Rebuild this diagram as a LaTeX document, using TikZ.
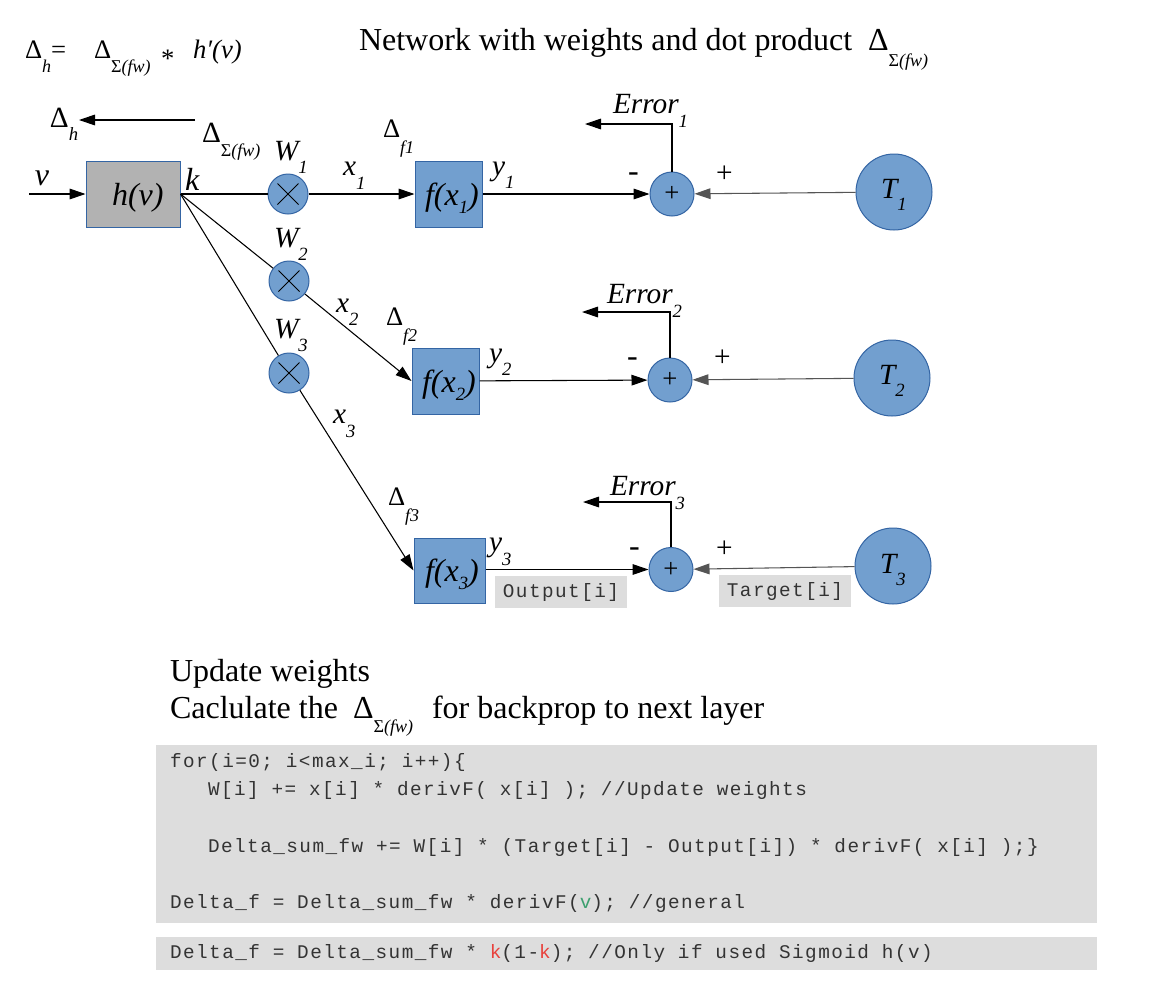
\documentclass[tikz,border=0pt]{standalone}
\usepackage{fontspec}
\setmainfont{Liberation Serif}
\newfontfamily\codefont[LetterSpace=7.6]{Liberation Mono}
\usetikzlibrary{arrows.meta,calc}
\definecolor{nodeblue}{HTML}{729FCF}
\definecolor{edgeblue}{HTML}{3465A4}
\definecolor{hgray}{HTML}{B2B2B2}
\definecolor{codebg}{HTML}{DDDDDD}
\definecolor{codetxt}{HTML}{333333}
\definecolor{codegreen}{HTML}{3C9F6E}
\definecolor{codered}{HTML}{E8413C}
\definecolor{linegray}{HTML}{555555}
\newcommand{\dn}[2]{\raisebox{-#1}{\fontsize{14}{14}\selectfont\itshape #2}}
\newcommand{\dns}[2]{\raisebox{-#1}{\fontsize{13.5}{14}\selectfont\itshape #2}}
\newcommand{\sfw}{\textup{Σ}(fw)}
\newcommand{\fbig}{\fontsize{24}{28}\selectfont}
\newcommand{\fmid}{\fontsize{22}{26}\selectfont}
\newcommand{\fdel}{\fontsize{20}{24}\selectfont}
\newcommand{\codesize}{\codefont\fontsize{14.5}{17}\selectfont\spaceskip=9.6pt\xspaceskip=9.6pt}
\tikzset{
  lbl/.style={anchor=base west, inner sep=0pt, outer sep=0pt},
  blubox/.style={draw=edgeblue, fill=nodeblue, line width=0.75pt, minimum width=50.25pt, minimum height=49.5pt, inner sep=0pt},
  mult/.style={circle, draw=edgeblue, fill=nodeblue, line width=0.75pt, minimum size=30pt, inner sep=0pt},
  sumn/.style={circle, draw=edgeblue, fill=nodeblue, line width=0.75pt, minimum size=33pt, inner sep=0pt, font=\fontsize{20}{20}\selectfont},
  tgt/.style={circle, draw=edgeblue, fill=nodeblue, line width=0.75pt, minimum size=57pt, inner sep=0pt},
  conn/.style={line width=0.8pt, -{Triangle[length=12pt,width=8pt]}},
  gconn/.style={conn, draw=linegray},
  plainline/.style={line width=0.8pt},
  codebox/.style={fill=codebg, inner sep=0pt, draw=none},
  codetext/.style={font=\codesize, text=codetxt}
}
\begin{document}
\begin{tikzpicture}[x=0.75pt,y=-0.75pt]
\fill[white] (0,0) rectangle (1150,1000);
\useasboundingbox (0,0) rectangle (1150,1000);

% top formula
\node[lbl] (fD1) at (25,58) {\fdel Δ\dns{10.5pt}{h}=};
\node[lbl] (fD2) at (94,58) {\fdel Δ\dns{11pt}{\sfw}};
\node[lbl] (fst) at (161,67) {\fdel *};
\node[lbl] (fhv) at (193,58) {\fdel\itshape h′(v)};

% title
\node[lbl] (title) at (359,50) {\fbig Network with weights and dot product};
\node[lbl] (titleD) at (868,50) {\fbig Δ\dns{12pt}{\sfw}};

% main nodes
\node[draw=edgeblue, fill=hgray, line width=0.75pt, minimum width=70.5pt, minimum height=49.5pt, inner sep=0pt] (hv) at (133,194) {};
\node[lbl] (hvt) at (112,205) {\fbig\itshape h(v)};

\node[mult] (m1) at (288,194) {};
\node[mult] (m2) at (289,281) {};
\node[mult] (m3) at (289,373) {};
\foreach \m in {m1,m2,m3}{
  \draw[line width=0.7pt] ([shift={(-10.5,-10.5)}]\m.center) -- ([shift={(10.5,10.5)}]\m.center);
  \draw[line width=0.7pt] ([shift={(-10.5,10.5)}]\m.center) -- ([shift={(10.5,-10.5)}]\m.center);
}

\node[blubox] (f1) at (448.5,194) {};
\node[blubox] (f2) at (445.5,381) {};
\node[blubox, minimum width=53.25pt, minimum height=48.75pt] (f3) at (449.5,570.5) {};
\node[lbl] (f1t) at (425,205) {\fbig\itshape f(x\dn{6pt}{1})};
\node[lbl] (f2t) at (422,392) {\fbig\itshape f(x\dn{6pt}{2})};
\node[lbl] (f3t) at (425,581) {\fbig\itshape f(x\dn{6pt}{3})};

\node[sumn] (s1) at (672,194) {+};
\node[sumn] (s2) at (670,380) {+};
\node[sumn] (s3) at (671,569.5) {+};

\node[tgt] (T1) at (894,192) {};
\node[tgt] (T2) at (892,378) {};
\node[tgt] (T3) at (893,566) {};
\node[lbl] (T1t) at (881,198) {\fmid\itshape T\dn{9pt}{1}};
\node[lbl] (T2t) at (879,384) {\fmid\itshape T\dn{9pt}{2}};
\node[lbl] (T3t) at (880,573) {\fmid\itshape T\dn{9pt}{3}};

% labels
\node[lbl] (Dh) at (50,127) {\fmid Δ\dn{10pt}{h}};
\node[lbl] (Dsfw) at (202,142) {\fmid Δ\dns{11pt}{\sfw}};
\node[lbl] (vlab) at (35,185) {\fbig\itshape v};
\node[lbl] (klab) at (185,190) {\fbig\itshape k};
\node[lbl] (W1) at (274,160) {\fmid\itshape W\dn{10pt}{1}};
\node[lbl] (W2) at (274,247) {\fmid\itshape W\dn{10pt}{2}};
\node[lbl] (W3) at (274,338) {\fmid\itshape W\dn{10pt}{3}};
\node[lbl] (x1) at (343,175) {\fmid\itshape x\dn{11pt}{1}};
\node[lbl] (x2) at (336,312) {\fmid\itshape x\dn{10pt}{2}};
\node[lbl] (x3) at (333,423) {\fmid\itshape x\dn{11pt}{3}};
\node[lbl] (Df1) at (383,137) {\fdel Δ\dns{12pt}{f1}};
\node[lbl] (Df2) at (386,325) {\fdel Δ\dns{12pt}{f2}};
\node[lbl] (Df3) at (388,505) {\fdel Δ\dns{12.5pt}{f3}};
\node[lbl] (y1) at (492,175) {\fmid\itshape y\dn{10pt}{1}};
\node[lbl] (y2) at (489,362) {\fmid\itshape y\dn{10pt}{2}};
\node[lbl] (y3) at (489,551) {\fmid\itshape y\dn{11pt}{3}};
\node[lbl] (mi1) at (628,181) {\fbig -};
\node[lbl] (mi2) at (627,366) {\fbig -};
\node[lbl] (mi3) at (629,556) {\fbig -};
\node[lbl] (pl1) at (716,182) {\fontsize{22}{22}\selectfont +};
\node[lbl] (pl2) at (714,366) {\fontsize{22}{22}\selectfont +};
\node[lbl] (pl3) at (716,557) {\fontsize{22}{22}\selectfont +};
\node[lbl] (Er1) at (613,113) {\fmid\itshape Error\dn{10.5pt}{1}};
\node[lbl] (Er2) at (607,303) {\fmid\itshape Error\dn{10.5pt}{2}};
\node[lbl] (Er3) at (610,495) {\fmid\itshape Error\dn{10.5pt}{3}};

% output / target boxes
\node[codebox, codetext, minimum width=99pt, minimum height=24pt] (outb) at (561,592) {Output[i]};
\node[codebox, codetext, minimum width=99pt, minimum height=24pt] (tgtb) at (785,591) {Target[i]};

% coordinates
\coordinate (vin) at (29,194);
\coordinate (dhs) at (195,120);
\coordinate (dht) at (79,120);
\coordinate (e1) at (585,124);
\coordinate (e2) at (582,312);
\coordinate (e3) at (583,502);

% connectors
\draw[conn] (vin) -- (hv.west);
\draw[conn] (dhs) -- (dht);
\draw[plainline] (hv.east) -- (m1);
\draw[plainline] (hv.east) -- (m2);
\draw[plainline] (hv.east) -- (m3);
\draw[conn] (m1) -- (f1);
\draw[conn] (m2) -- (f2.west);
\draw[conn] (m3) -- (f3.west);
\draw[conn] (f1) -- (s1);
\draw[conn] (f2) -- (s2);
\draw[conn] (f3.east |- s3) -- (s3);
\draw[gconn] (T1) -- (s1);
\draw[gconn] (T2) -- (s2);
\draw[gconn] (T3) -- (s3);
\draw[conn] (s1.north) |- (e1);
\draw[conn] (s2.north) |- (e2);
\draw[conn] (s3.north) |- (e3);

% bottom text
\node[lbl] (upd) at (170,681) {\fbig Update weights};
\node[lbl] (calc1) at (170,718) {\fbig Caclulate the};
\node[lbl] (calcD) at (353,718) {\fbig Δ\dns{10.5pt}{\sfw}};
\node[lbl] (calc2) at (432,718) {\fbig for backprop to next layer};

% code boxes
\node[codebox, minimum width=705.75pt, minimum height=133.5pt] (code1) at (626.5,834) {};
\node[codebox, minimum width=705.75pt, minimum height=24.75pt] (code2) at (626.5,953.5) {};
\node[lbl, codetext] (c1) at (170,767) {for(i=0; i<max\_i; i++)\{};
\node[lbl, codetext] (c2) at (208,795) {W[i] += x[i] * derivF( x[i] ); //Update weights};
\node[lbl, codetext] (c3) at (208,852) {Delta\_sum\_fw += W[i] * (Target[i] - Output[i]) * derivF( x[i] );\}};
\node[lbl, codetext] (c4) at (170,908) {Delta\_f = Delta\_sum\_fw * derivF(\textcolor{codegreen}{v}); //general};
\node[lbl, codetext] (c5) at (170,958) {Delta\_f = Delta\_sum\_fw * \textcolor{codered}{k}(1-\textcolor{codered}{k}); //Only if used Sigmoid h(v)};
\end{tikzpicture}
\end{document}
